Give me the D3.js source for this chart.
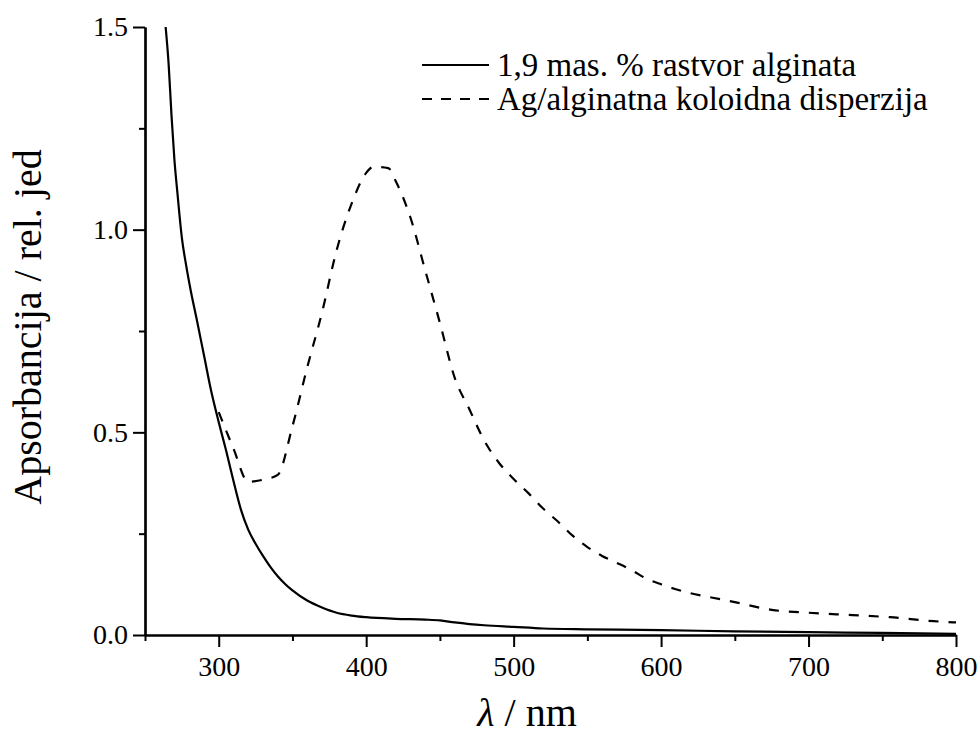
<!DOCTYPE html>
<html><head><meta charset="utf-8">
<script src="https://cdn.jsdelivr.net/npm/d3@7"></script>
</head>
<body style="margin:0;background:#fff">
<svg id="c" width="979" height="737"></svg>
<script>
// ---- data ----
const alginateWl  = [264, 266, 268, 270, 272, 275, 278, 281, 285, 290, 295, 300, 305, 310, 315, 320, 325, 330, 335, 340, 345, 350, 360, 370, 380, 390, 400, 420, 440, 450, 460, 470, 480, 500, 520, 550, 600, 650, 700, 750, 800];
const alginateAbs = [1.50, 1.41, 1.28, 1.17, 1.09, 0.98, 0.91, 0.85, 0.78, 0.69, 0.60, 0.525, 0.455, 0.38, 0.31, 0.26, 0.225, 0.195, 0.168, 0.145, 0.126, 0.11, 0.085, 0.068, 0.055, 0.048, 0.044, 0.040, 0.038, 0.036, 0.031, 0.027, 0.024, 0.020, 0.016, 0.014, 0.012, 0.009, 0.007, 0.005, 0.003];

const agWl  = [300, 310, 320, 330, 340, 350, 360, 370, 380, 390, 400, 405, 415, 420, 430, 440, 450, 460, 470, 480, 490, 500, 510, 520, 530, 540, 550, 560, 570, 580, 590, 600, 610, 620, 635, 650, 675, 700, 730, 755, 785, 800];
const agAbs = [0.55, 0.46, 0.378, 0.383, 0.395, 0.515, 0.66, 0.795, 0.95, 1.063, 1.14, 1.155, 1.152, 1.12, 1.03, 0.90, 0.77, 0.635, 0.557, 0.48, 0.425, 0.385, 0.35, 0.312, 0.28, 0.245, 0.217, 0.195, 0.178, 0.16, 0.139, 0.125, 0.113, 0.103, 0.092, 0.081, 0.062, 0.055, 0.049, 0.044, 0.034, 0.031];

const xMajorTicks = [300, 400, 500, 600, 700, 800];
const xMinorTicks = [250, 350, 450, 550, 650, 750];
const yMajorTicks = [0, 0.5, 1.0, 1.5];
const yMinorTicks = [0.25, 0.75, 1.25];

const legendLabels = ["1,9 mas. % rastvor alginata", "Ag/alginatna koloidna disperzija"];
const xTitle = "nm";
const yTitle = "Apsorbancija / rel. jed";

// ---- layout ----
const FONT = "Liberation Serif";
const svg = d3.select("#c");
const mLeft = 145, mRight = 956, mTop = 27, mBottom = 635;

const x = d3.scaleLinear().domain([250, 800]).range([mLeft, mRight]);
const y = d3.scaleLinear().domain([0, 1.5]).range([mBottom, mTop]);

// curves
const line = d3.line().x(d => x(d[0])).y(d => y(d[1])).curve(d3.curveMonotoneX);
const s1 = alginateWl.map((w, i) => [w, alginateAbs[i]]);
const s2 = agWl.map((w, i) => [w, agAbs[i]]);

svg.append("path").datum(s1).attr("d", line)
  .attr("fill", "none").attr("stroke", "#000").attr("stroke-width", 2.2);
svg.append("path").datum(s2).attr("d", line)
  .attr("fill", "none").attr("stroke", "#000").attr("stroke-width", 2.2)
  .attr("stroke-dasharray", "10,10");

// axes
const xAxis = d3.axisBottom(x).tickValues(xMajorTicks).tickFormat(d3.format("d"))
  .tickSizeInner(12).tickSizeOuter(0).tickPadding(9);
const xMinor = d3.axisBottom(x).tickValues(xMinorTicks).tickFormat("")
  .tickSizeInner(6).tickSizeOuter(0);
const yAxis = d3.axisLeft(y).tickValues(yMajorTicks).tickFormat(d3.format(".1f"))
  .tickSizeInner(12).tickSizeOuter(0).tickPadding(5);
const yMinor = d3.axisLeft(y).tickValues(yMinorTicks).tickFormat("")
  .tickSizeInner(6).tickSizeOuter(0);

function styleAxis(g) {
  g.attr("font-family", FONT).attr("font-size", 28);
  g.selectAll("path.domain").attr("stroke", "#000").attr("stroke-width", 2.2);
  g.selectAll(".tick line").attr("stroke", "#000").attr("stroke-width", 2);
  g.selectAll(".tick text").attr("fill", "#000");
}

svg.append("g").attr("transform", `translate(0,${mBottom})`).call(xAxis).call(styleAxis);
svg.append("g").attr("transform", `translate(0,${mBottom})`).call(xMinor).call(styleAxis);
svg.append("g").attr("transform", `translate(${mLeft},0)`).call(yAxis).call(styleAxis);
svg.append("g").attr("transform", `translate(${mLeft},0)`).call(yMinor).call(styleAxis);

// axis titles
const xt = svg.append("text")
  .attr("x", 527).attr("y", 726)
  .attr("text-anchor", "middle")
  .attr("font-family", FONT).attr("font-size", 40).attr("fill", "#000");
xt.append("tspan").attr("font-style", "italic").text("λ");
xt.append("tspan").text(" / " + xTitle);

svg.append("text")
  .attr("transform", "translate(41,327) rotate(-90)")
  .attr("text-anchor", "middle")
  .attr("font-family", FONT).attr("font-size", 40).attr("fill", "#000")
  .text(yTitle);

// legend
const legY = [65, 99];
legendLabels.forEach((lab, i) => {
  svg.append("line")
    .attr("x1", 422).attr("x2", 489).attr("y1", legY[i]).attr("y2", legY[i])
    .attr("stroke", "#000").attr("stroke-width", 2.2)
    .attr("stroke-dasharray", i === 1 ? "10,9" : null);
  svg.append("text")
    .attr("x", 497).attr("y", legY[i] + 11)
    .attr("font-family", FONT).attr("font-size", 33).attr("fill", "#000")
    .text(lab);
});
</script>
</body></html>
